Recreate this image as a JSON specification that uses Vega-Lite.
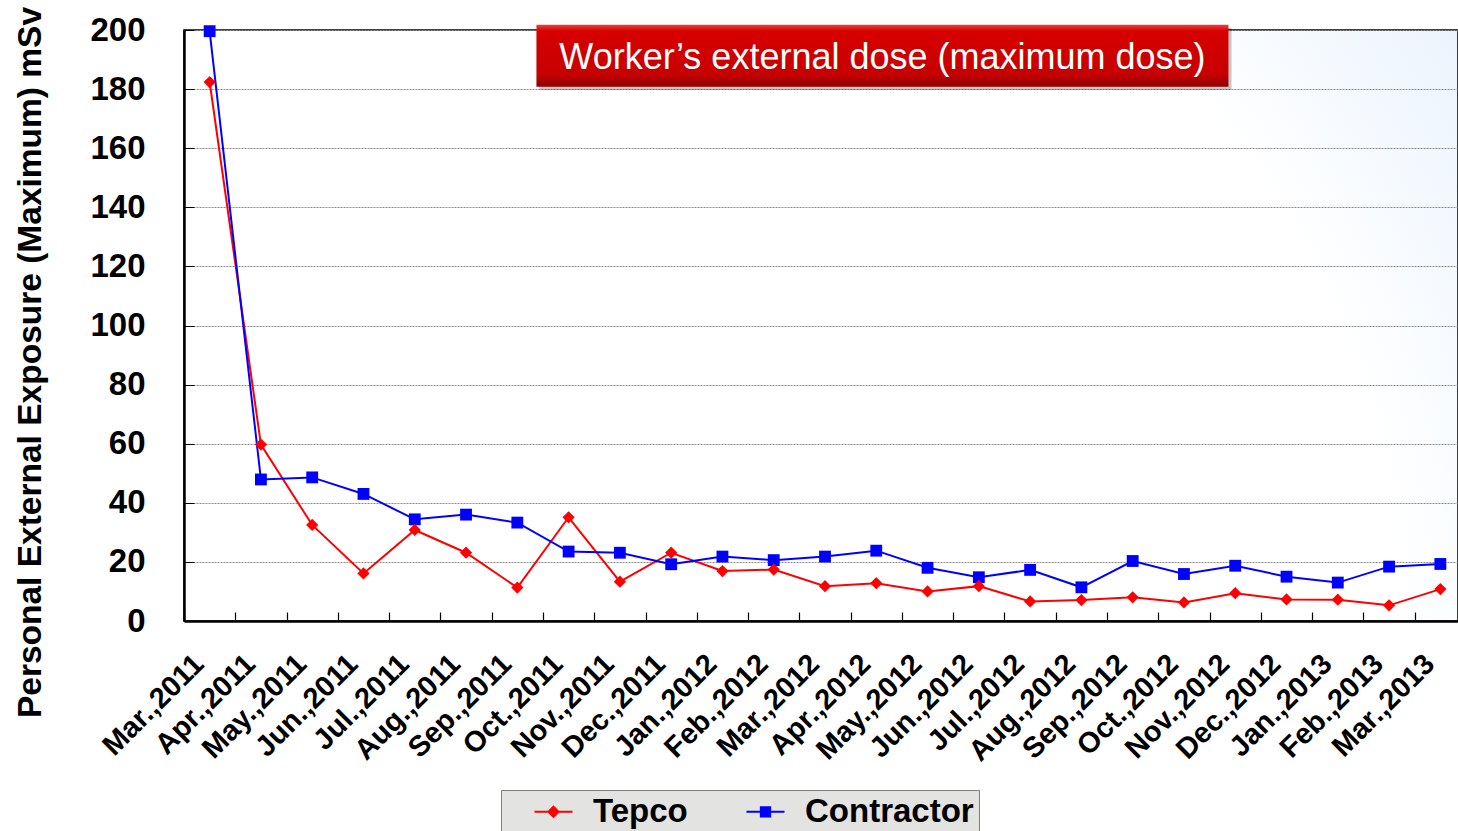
{
  "$schema": "https://vega.github.io/schema/vega-lite/v6.json",
  "width": 1274,
  "height": 591,
  "autosize": {"type": "none"},
  "padding": {"left": 184, "top": 30, "right": 0, "bottom": 210},
  "background": "white",
  "config": {
    "font": "Liberation Sans",
    "view": {
      "stroke": "#000000",
      "strokeWidth": 1.5,
      "fill": {"gradient": "radial", "x1": 0.3, "y1": 0.75, "r1": 0, "x2": 0.3, "y2": 0.75, "r2": 1.05,
        "stops": [{"offset": 0, "color": "#ffffff"}, {"offset": 0.62, "color": "#ffffff"}, {"offset": 1, "color": "#d6e8fc"}]}
    }
  },
  "datasets": {
    "dose": [
      {"month": "Mar.,2011", "series": "Tepco", "value": 182.4},
      {"month": "Apr.,2011", "series": "Tepco", "value": 59.7},
      {"month": "May.,2011", "series": "Tepco", "value": 32.5},
      {"month": "Jun.,2011", "series": "Tepco", "value": 16.1},
      {"month": "Jul.,2011", "series": "Tepco", "value": 30.8},
      {"month": "Aug.,2011", "series": "Tepco", "value": 23.1},
      {"month": "Sep.,2011", "series": "Tepco", "value": 11.3},
      {"month": "Oct.,2011", "series": "Tepco", "value": 35.1},
      {"month": "Nov.,2011", "series": "Tepco", "value": 13.3},
      {"month": "Dec.,2011", "series": "Tepco", "value": 23.1},
      {"month": "Jan.,2012", "series": "Tepco", "value": 16.9},
      {"month": "Feb.,2012", "series": "Tepco", "value": 17.4},
      {"month": "Mar.,2012", "series": "Tepco", "value": 11.8},
      {"month": "Apr.,2012", "series": "Tepco", "value": 12.8},
      {"month": "May.,2012", "series": "Tepco", "value": 10.0},
      {"month": "Jun.,2012", "series": "Tepco", "value": 11.8},
      {"month": "Jul.,2012", "series": "Tepco", "value": 6.6},
      {"month": "Aug.,2012", "series": "Tepco", "value": 7.1},
      {"month": "Sep.,2012", "series": "Tepco", "value": 8.0},
      {"month": "Oct.,2012", "series": "Tepco", "value": 6.3},
      {"month": "Nov.,2012", "series": "Tepco", "value": 9.4},
      {"month": "Dec.,2012", "series": "Tepco", "value": 7.3},
      {"month": "Jan.,2013", "series": "Tepco", "value": 7.2},
      {"month": "Feb.,2013", "series": "Tepco", "value": 5.3},
      {"month": "Mar.,2013", "series": "Tepco", "value": 10.8},
      {"month": "Mar.,2011", "series": "Contractor", "value": 199.6},
      {"month": "Apr.,2011", "series": "Contractor", "value": 47.9},
      {"month": "May.,2011", "series": "Contractor", "value": 48.6},
      {"month": "Jun.,2011", "series": "Contractor", "value": 43.0},
      {"month": "Jul.,2011", "series": "Contractor", "value": 34.4},
      {"month": "Aug.,2011", "series": "Contractor", "value": 36.0},
      {"month": "Sep.,2011", "series": "Contractor", "value": 33.3},
      {"month": "Oct.,2011", "series": "Contractor", "value": 23.5},
      {"month": "Nov.,2011", "series": "Contractor", "value": 23.1},
      {"month": "Dec.,2011", "series": "Contractor", "value": 19.2},
      {"month": "Jan.,2012", "series": "Contractor", "value": 21.8},
      {"month": "Feb.,2012", "series": "Contractor", "value": 20.6},
      {"month": "Mar.,2012", "series": "Contractor", "value": 21.8},
      {"month": "Apr.,2012", "series": "Contractor", "value": 23.8},
      {"month": "May.,2012", "series": "Contractor", "value": 18.0},
      {"month": "Jun.,2012", "series": "Contractor", "value": 14.8},
      {"month": "Jul.,2012", "series": "Contractor", "value": 17.3},
      {"month": "Aug.,2012", "series": "Contractor", "value": 11.4},
      {"month": "Sep.,2012", "series": "Contractor", "value": 20.3},
      {"month": "Oct.,2012", "series": "Contractor", "value": 15.9},
      {"month": "Nov.,2012", "series": "Contractor", "value": 18.7},
      {"month": "Dec.,2012", "series": "Contractor", "value": 15.0},
      {"month": "Jan.,2013", "series": "Contractor", "value": 13.0},
      {"month": "Feb.,2013", "series": "Contractor", "value": 18.4},
      {"month": "Mar.,2013", "series": "Contractor", "value": 19.3}
    ],
    "title": [{"label": "Worker’s external dose (maximum dose)"}]
  },
  "layer": [
    {
      "data": {"name": "dose"},
      "mark": {"type": "line", "strokeWidth": 2},
      "encoding": {
        "x": {
          "field": "month", "type": "nominal",
          "scale": {"type": "band", "paddingInner": 0, "paddingOuter": 0, "range": [0, 1282],
            "domain": ["Mar.,2011","Apr.,2011","May.,2011","Jun.,2011","Jul.,2011","Aug.,2011","Sep.,2011","Oct.,2011","Nov.,2011","Dec.,2011","Jan.,2012","Feb.,2012","Mar.,2012","Apr.,2012","May.,2012","Jun.,2012","Jul.,2012","Aug.,2012","Sep.,2012","Oct.,2012","Nov.,2012","Dec.,2012","Jan.,2013","Feb.,2013","Mar.,2013"]},
          "axis": {
            "title": null, "labelAngle": -45, "labelAlign": "right", "labelBaseline": "middle",
            "labelFont": "Liberation Sans", "labelFontWeight": "bold", "labelFontSize": 29, "labelColor": "#000000",
            "labelPadding": 47, "labelOffset": -11, "labelOverlap": false, "labelBound": false, "tickBand": "extent", "tickSize": -9, "tickColor": "#000000",
            "tickWidth": 1.2, "domainColor": "#000000", "domainWidth": 2.5, "grid": false
          }
        },
        "y": {
          "field": "value", "type": "quantitative",
          "scale": {"domain": [0, 200], "nice": false},
          "axis": {
            "title": "Personal External Exposure (Maximum) mSv",
            "titleFont": "Liberation Sans", "titleFontSize": 33.5, "titleFontWeight": "bold", "titleColor": "#000000",
            "titleAngle": -90, "titleX": -154, "titleY": 332, "titleAlign": "center", "titleBaseline": "middle",
            "values": [0, 20, 40, 60, 80, 100, 120, 140, 160, 180, 200],
            "labelFont": "Liberation Sans", "labelFontSize": 33, "labelFontWeight": "bold", "labelColor": "#000000",
            "labelPadding": 49, "tickSize": -10, "tickColor": "#000000", "tickWidth": 1,
            "domainColor": "#000000", "domainWidth": 2.5,
            "grid": true, "gridColor": "#8a8a8a", "gridDash": [2, 1], "gridWidth": 1
          }
        },
        "color": {
          "field": "series", "type": "nominal",
          "scale": {"domain": ["Tepco", "Contractor"], "range": ["#ff0000", "#0000ff"]},
          "legend": {
            "orient": "none", "legendX": 317, "legendY": 760, "direction": "horizontal", "title": null,
            "fillColor": "#e3e3e1", "strokeColor": "#7f7f7f", "padding": 5,
            "labelFont": "Liberation Sans", "labelFontSize": 33, "labelFontWeight": "bold", "labelColor": "#000000", "labelLimit": 500,
            "symbolSize": 625, "symbolStrokeWidth": 2, "labelOffset": 23, "columnPadding": 30, "symbolOffset": 31,
            "encode": {"symbols": {"update": {"fill": {"scale": "color", "field": "value"}, "stroke": {"scale": "color", "field": "value"}, "opacity": {"value": 1}}}}
          }
        },
        "shape": {
          "field": "series", "type": "nominal",
          "scale": {"domain": ["Tepco", "Contractor"], "range": ["M-1.52,0H1.52M0,-0.4L0.4,0L0,0.4L-0.4,0Z", "M-1.52,0H1.52M-0.37,-0.37H0.37V0.37H-0.37Z"]},
          "legend": {
            "orient": "none", "legendX": 317, "legendY": 760, "direction": "horizontal", "title": null,
            "fillColor": "#e3e3e1", "strokeColor": "#7f7f7f", "padding": 5,
            "labelFont": "Liberation Sans", "labelFontSize": 33, "labelFontWeight": "bold", "labelColor": "#000000", "labelLimit": 500,
            "symbolSize": 625, "symbolStrokeWidth": 2, "labelOffset": 23, "columnPadding": 30, "symbolOffset": 31
          }
        }
      }
    },
    {
      "data": {"name": "dose"},
      "transform": [{"filter": "datum.series === 'Contractor'"}],
      "mark": {"type": "point", "shape": "square", "filled": true, "color": "#0000ff", "size": 140, "opacity": 1},
      "encoding": {
        "x": {"field": "month", "type": "nominal"},
        "y": {"field": "value", "type": "quantitative"}
      }
    },
    {
      "data": {"name": "dose"},
      "transform": [{"filter": "datum.series === 'Tepco'"}],
      "mark": {"type": "point", "shape": "diamond", "filled": true, "color": "#ff0000", "size": 150, "opacity": 1},
      "encoding": {
        "x": {"field": "month", "type": "nominal"},
        "y": {"field": "value", "type": "quantitative"}
      }
    },
    {
      "data": {"name": "title"},
      "mark": {"type": "point", "shape": "M-1,-0.0896H1V0.0896H-1Z", "filled": true, "fill": "#000000", "opacity": 0.22, "strokeOpacity": 0, "size": 478864},
      "encoding": {
        "x": {"datum": "Apr.,2012", "type": "nominal", "bandPosition": 0.68},
        "y": {"datum": 190.2, "type": "quantitative"}
      }
    },
    {
      "data": {"name": "title"},
      "mark": {"type": "point", "shape": "M-1,-0.0896H1V0.0896H-1Z", "filled": true, "opacity": 1, "strokeOpacity": 0, "size": 478864,
        "fill": {"gradient": "linear", "x1": 0, "y1": 0, "x2": 0, "y2": 1,
          "stops": [{"offset": 0, "color": "#f04040"}, {"offset": 0.1, "color": "#d70000"}, {"offset": 0.8, "color": "#c70000"}, {"offset": 1, "color": "#900000"}]}},
      "encoding": {
        "x": {"datum": "Apr.,2012", "type": "nominal", "bandPosition": 0.62},
        "y": {"datum": 191.3, "type": "quantitative"}
      }
    },
    {
      "data": {"name": "title"},
      "mark": {"type": "text", "font": "Liberation Sans", "fontSize": 36, "color": "#ffffff", "align": "center", "baseline": "middle", "dy": 2},
      "encoding": {
        "x": {"datum": "Apr.,2012", "type": "nominal", "bandPosition": 0.62},
        "y": {"datum": 191.3, "type": "quantitative"},
        "text": {"field": "label"}
      }
    }
  ]
}
